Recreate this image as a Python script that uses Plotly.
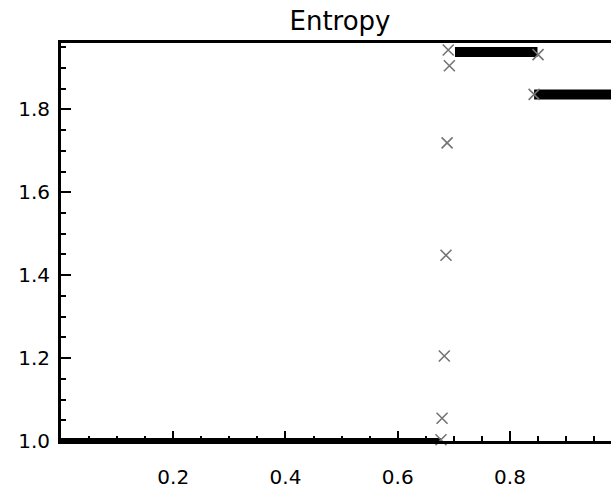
import plotly.graph_objects as go

# Plateau segments (x from, x to) and their entropy levels
low_x = [0.0, 0.677]
low_y = [1.0, 1.0]
high_x = [0.702, 0.849]
high_y = [1.938, 1.938]
mid_x = [0.843, 1.0]
mid_y = [1.836, 1.836]

# Individual transition points (crosses)
cross_x = [0.677, 0.679, 0.683, 0.686, 0.688, 0.692, 0.690, 0.850, 0.843]
cross_y = [1.003, 1.055, 1.205, 1.448, 1.719, 1.905, 1.943, 1.932, 1.836]

x_ticks = [0.2, 0.4, 0.6, 0.8]
x_labels = ["0.2", "0.4", "0.6", "0.8"]
y_ticks = [1.0, 1.2, 1.4, 1.6, 1.8]
y_labels = ["1.0", "1.2", "1.4", "1.6", "1.8"]

fig = go.Figure()
for xs, ys, w in [(low_x, low_y, 6), (high_x, high_y, 10), (mid_x, mid_y, 10)]:
    fig.add_trace(go.Scatter(x=xs, y=ys, mode="lines",
                             line=dict(color="black", width=w),
                             showlegend=False, hoverinfo="skip"))
fig.add_trace(go.Scatter(x=cross_x, y=cross_y, mode="markers",
                         marker=dict(symbol="x-thin", size=11,
                                     line=dict(color="#747474", width=1.6)),
                         cliponaxis=False, showlegend=False))

font = dict(family="DejaVu Sans", size=20, color="black")
fig.update_layout(
    width=611, height=489,
    margin=dict(l=61, r=0, t=43, b=43),
    paper_bgcolor="white", plot_bgcolor="white",
    title=dict(text="Entropy", x=340 / 611, xref="container", xanchor="center",
               y=1 - 21 / 489, yref="container", yanchor="middle",
               font=dict(family="DejaVu Sans", size=26, color="black")),
    font=font,
)
fig.update_xaxes(range=[0, 0.98], tickmode="array", tickvals=x_ticks, ticktext=x_labels,
                 showgrid=False, zeroline=False, showline=True, linecolor="black",
                 linewidth=2.5, mirror=True, ticks="inside", ticklen=10, tickwidth=2,
                 tickcolor="black", ticklabelstandoff=16, tickfont=font,
                 minor=dict(tickmode="linear", tick0=0, dtick=0.05, ticks="inside",
                            ticklen=5, tickwidth=2, tickcolor="black", showgrid=False))
fig.update_yaxes(range=[1.0, 1.96], tickmode="array", tickvals=y_ticks, ticktext=y_labels,
                 showgrid=False, zeroline=False, showline=True, linecolor="black",
                 linewidth=3, mirror=False, ticks="inside", ticklen=10, tickwidth=2,
                 tickcolor="black", ticklabelstandoff=4, tickfont=font,
                 minor=dict(tickmode="linear", tick0=1.0, dtick=0.05, ticks="inside",
                            ticklen=5, tickwidth=2, tickcolor="black", showgrid=False))

fig.write_html("out.html")
